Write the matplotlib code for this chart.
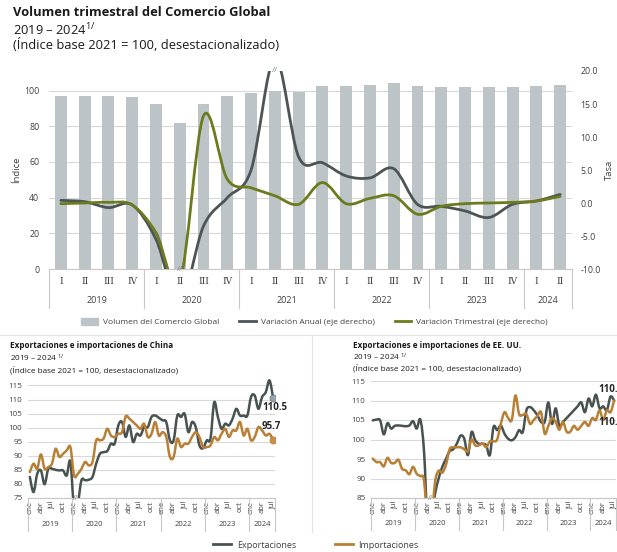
import numpy as np
import matplotlib
matplotlib.use('Agg')
import matplotlib.pyplot as plt
from matplotlib.path import Path
from matplotlib.patches import PathPatch, Patch
from matplotlib.lines import Line2D
from matplotlib.transforms import blended_transform_factory

plt.rcParams['font.family'] = ['Open Sans', 'DejaVu Sans']
plt.rcParams['mathtext.fontset'] = 'custom'
plt.rcParams['mathtext.rm'] = 'Open Sans'
plt.rcParams['mathtext.default'] = 'regular'

# ---- datos: volumen trimestral ----
trimestres = ['I', 'II', 'III', 'IV'] * 5 + ['I', 'II']
anios_q = ['2019', '2020', '2021', '2022', '2023', '2024']
volumen = [96.8, 97.0, 97.2, 96.5, 92.3, 82.0, 92.7, 96.8, 98.7, 99.7, 99.5,
           102.4, 102.6, 103.2, 104.3, 102.6, 101.9, 101.9, 101.9, 101.9,
           102.4, 103.3]
var_anual = [0.4, 0.2, -0.7, -0.3, -5.5, -15.0, -3.5, 0.8, 5.0, 22.0, 7.0,
             6.1, 4.1, 3.8, 5.2, -0.2, -0.5, -1.2, -2.2, -0.2, 0.3, 1.3]
var_trim = [-0.1, 0.0, 0.1, -0.3, -4.5, -12.0, 13.2, 3.6, 2.3, 1.1, -0.2,
            3.1, -0.1, 0.7, 1.1, -1.7, -0.5, -0.1, 0.0, 0.1, 0.3, 1.0]

# ---- datos mensuales ene-2019 a jul-2024 ----
meses = ['ene', 'feb', 'mar', 'abr', 'may', 'jun', 'jul', 'ago', 'sep', 'oct', 'nov', 'dic']
anios_m = ['2019', '2020', '2021', '2022', '2023', '2024']

china_exp = [82.5, 77.1, 83.6, 84.8, 79.9, 85.4, 85.4, 85.0, 84.8, 84.8, 83.0, 88.0,
             71.0, 73.0, 81.3, 81.3, 81.5, 82.5, 87.2, 90.7, 91.3, 91.7, 94.3, 94.3,
             100.8, 102.0, 96.7, 100.8, 94.9, 97.8, 97.2, 100.2, 100.2, 103.8, 104.3, 103.5,
             102.6, 102.0, 95.5, 95.5, 104.3, 103.8, 104.9, 98.4, 102.0, 100.2, 93.7, 92.7,
             95.5, 96.1, 109.0, 103.8, 99.6, 101.4, 100.8, 103.2, 106.7, 104.3, 104.3, 104.3,
             110.9, 111.4, 106.7, 110.9, 112.6, 116.8, 110.5]
china_imp = [84.2, 87.2, 85.4, 90.5, 85.4, 86.0, 87.2, 92.5, 89.6, 90.7, 91.9, 93.1,
             83.0, 83.6, 85.4, 87.8, 86.6, 87.8, 95.5, 95.5, 96.1, 99.6, 97.2, 96.7,
             97.8, 98.4, 104.0, 103.2, 102.0, 100.8, 99.6, 101.4, 96.7, 97.8, 102.0, 97.2,
             98.4, 96.7, 89.6, 89.6, 96.1, 93.1, 94.3, 94.3, 96.7, 98.4, 96.7, 93.1,
             93.1, 93.7, 96.7, 95.5, 97.8, 99.6, 96.7, 99.0, 99.0, 102.0, 97.2, 99.6,
             95.5, 96.7, 100.2, 99.0, 97.2, 97.8, 95.7]
eeuu_exp = [104.9, 105.1, 104.9, 101.3, 104.2, 102.8, 103.5, 103.6, 103.5, 103.4, 103.6, 104.7,
            102.8, 105.1, 97.0, 78.0, 80.0, 86.0, 90.0, 93.0, 95.0, 97.0, 97.5, 99.0,
            101.0, 100.2, 96.0, 101.9, 99.8, 98.9, 98.9, 98.5, 96.0, 103.2, 102.4, 103.6,
            101.5, 100.2, 99.8, 100.6, 102.4, 101.9, 107.5, 108.3, 107.5, 106.2, 104.5, 104.5,
            109.5, 104.0, 108.0, 103.5, 104.5, 105.5, 106.5, 107.5, 108.5, 109.5, 107.0, 110.5,
            108.5, 111.5, 108.0, 108.5, 107.5, 111.0, 110.0]
eeuu_imp = [95.1, 94.2, 94.2, 93.1, 95.3, 94.0, 94.0, 94.8, 92.5, 92.1, 91.1, 93.0,
            91.2, 90.6, 89.5, 78.0, 78.0, 89.0, 92.0, 91.5, 93.5, 97.5, 98.0, 98.0,
            98.0, 97.5, 97.0, 100.0, 98.5, 98.5, 99.0, 98.0, 99.5, 99.5, 100.0, 104.0,
            107.0, 105.5, 105.0, 111.3, 106.5, 106.3, 106.5, 104.0, 105.0, 106.0, 107.0, 101.5,
            103.5, 105.5, 104.5, 102.5, 104.5, 102.0, 102.0, 103.5, 102.5, 103.5, 104.5, 103.5,
            105.5, 105.0, 107.5, 105.0, 107.5, 107.0, 110.0]

C_BAR = '#BDC4C8'
C_ANUAL = '#4D5456'
C_TRIM = '#6B7B1E'
C_EXP = '#485351'
C_IMP = '#B98035'
C_GRID = '#D9D9D9'
C_TXT = '#404040'
C_SEP = '#C8C8C8'


def suave(x, y):
    # curva tipo "linea suavizada" de Excel (Bezier por Catmull-Rom)
    pts = np.column_stack([x, y]).astype(float)
    verts = [pts[0]]
    codes = [Path.MOVETO]
    n = len(pts)
    for i in range(n - 1):
        p0 = pts[i - 1] if i > 0 else pts[i]
        p1, p2 = pts[i], pts[i + 1]
        p3 = pts[i + 2] if i + 2 < n else pts[i + 1]
        verts += [p1 + (p2 - p0) / 6, p2 - (p3 - p1) / 6, p2]
        codes += [Path.CURVE4] * 3
    return Path(verts, codes)


def linea(ax, x, y, color, lw):
    ax.add_patch(PathPatch(suave(x, y), fill=False, edgecolor=color, lw=lw,
                           capstyle='round', joinstyle='round'))


def eje_jerarquico(ax, grupos, tam, y_anio, y_sep, fs):
    tr = blended_transform_factory(ax.transData, ax.transAxes)
    inicio = -0.5
    bordes = [inicio]
    for g, n in zip(grupos, tam):
        ax.text(inicio + n / 2, y_anio, g, transform=tr, ha='center', va='center',
                fontsize=fs, color=C_TXT)
        inicio += n
        bordes.append(inicio)
    for b in bordes:
        ax.plot([b, b], [0, y_sep], transform=tr, color=C_SEP, lw=0.8, clip_on=False)


fig = plt.figure(figsize=(6.17, 5.52), dpi=100)
W, H = 617, 552


def px(x0, y0, x1, y1):
    return [x0 / W, 1 - y1 / H, (x1 - x0) / W, (y1 - y0) / H]


# ---------------- grafico superior ----------------
ax = fig.add_axes(px(49, 71, 572, 269))
xq = np.arange(len(volumen))
ax.bar(xq, volumen, width=0.5, color=C_BAR, zorder=2)
ax.set_xlim(-0.5, len(volumen) - 0.5)
ax.set_ylim(0, 111)
ax.set_yticks(range(0, 101, 20))
ax.yaxis.grid(True, color=C_GRID, lw=0.8, zorder=0)
ax.set_axisbelow(True)
for s in ['top', 'right', 'left']:
    ax.spines[s].set_visible(False)
ax.spines['bottom'].set_color(C_SEP)
ax.set_xticks(xq)
ax.set_xticklabels(trimestres, fontsize=6.5, color=C_TXT, family=['DejaVu Serif'])
ax.tick_params(axis='x', length=0, pad=6)
ax.tick_params(axis='y', length=0, labelsize=6.3, labelcolor=C_TXT, pad=7)
ax.set_ylabel('Índice', fontsize=6.8, color=C_TXT, labelpad=2)
eje_jerarquico(ax, anios_q, [4, 4, 4, 4, 4, 2], -0.157, -0.195, 6.5)

ax2 = ax.twinx()
ax2.set_ylim(-10, 20)
ax2.set_yticks(np.arange(-10, 20.1, 5))
ax2.set_yticklabels([f'{v:.1f}' for v in np.arange(-10, 20.1, 5)])
ax2.tick_params(axis='y', length=0, labelsize=6.3, labelcolor=C_TXT, pad=6)
for s in ax2.spines.values():
    s.set_visible(False)
ax2.set_ylabel('Tasa', fontsize=6.8, color=C_TXT, labelpad=3)
linea(ax2, xq, var_anual, C_ANUAL, 2.0)
linea(ax2, xq, var_trim, C_TRIM, 2.0)
ax2.text(5.0, -10, '//', ha='center', va='center', fontsize=6, color='#808080')
ax2.text(9.0, 20, '//', ha='center', va='center', fontsize=6, color='#808080')

fig.text(13 / W, 1 - 12 / H, 'Volumen trimestral del Comercio Global', fontsize=9.3,
         fontweight='bold', va='center', color='#1A1A1A')
fig.text(13 / W, 1 - 30 / H, '2019 – 2024$^{1/}$', fontsize=9.3, va='center', color='#1A1A1A')
fig.text(13 / W, 1 - 45 / H, '(Índice base 2021 = 100, desestacionalizado)', fontsize=9.3,
         va='center', color='#1A1A1A')

h_top = [Patch(color=C_BAR), Line2D([], [], color=C_ANUAL, lw=2),
         Line2D([], [], color=C_TRIM, lw=2)]
fig.legend(h_top, ['Volumen del Comercio Global', 'Variación Anual (eje derecho)',
                   'Variación Trimestral (eje derecho)'],
           loc='center', bbox_to_anchor=(0.51, 1 - 322 / H), ncol=3, frameon=False,
           fontsize=6, handlelength=2.0, handleheight=0.9, columnspacing=2.4,
           handletextpad=0.6, labelcolor=C_TXT)


# ---------------- graficos mensuales ----------------
def mensual(box, exp, imp, ymin, ymax, titulo, y_tit, marcas, etiquetas, corte):
    a = fig.add_axes(px(*box))
    xm = np.arange(len(exp))
    linea(a, xm, exp, C_EXP, 1.8)
    linea(a, xm, imp, C_IMP, 1.8)
    a.set_xlim(-0.5, len(exp) - 0.5)
    a.set_ylim(ymin, ymax)
    a.set_yticks(np.arange(ymin, 115.1, 5))
    a.yaxis.grid(True, color=C_GRID, lw=0.8)
    a.set_axisbelow(True)
    for s in ['top', 'right', 'left']:
        a.spines[s].set_visible(False)
    a.spines['bottom'].set_color(C_SEP)
    a.tick_params(axis='y', length=0, labelsize=5.8, labelcolor=C_TXT, pad=4)
    pos = [i for i in xm if i % 3 == 0]
    a.set_xticks(pos)
    a.set_xticklabels([meses[i % 12] for i in pos], rotation=90, fontsize=5.5, color=C_TXT)
    a.tick_params(axis='x', length=0, pad=2)
    tam = [12] * 5 + [len(exp) - 60]
    eje_jerarquico(a, anios_m, tam, -0.215, -0.27, 5.5)
    if marcas:
        a.plot(xm[-1], exp[-1], 'o', ms=5, mfc='#93A6B0', mec='#6E7F88', mew=0.6, zorder=5)
        a.plot(xm[-1], imp[-1], 'o', ms=5, mfc='#C8904A', mec=C_IMP, mew=0.6, zorder=5)
    for (xt, yt, val) in etiquetas:
        a.text(xt, yt, f'{val:.1f}', fontsize=7, fontweight='bold', color='#262626',
               ha='left', va='center', clip_on=False)
    a.text(corte, ymin, '//', ha='center', va='center', fontsize=5, color='#808080')
    x0 = box[0] - 18
    fig.text(x0 / W, 1 - y_tit[0] / H, titulo, fontsize=5.9, fontweight='bold',
             va='center', color='#1A1A1A')
    fig.text(x0 / W, 1 - y_tit[1] / H, '2019 – 2024 $^{1/}$', fontsize=5.9,
             va='center', color='#1A1A1A')
    fig.text(x0 / W, 1 - y_tit[2] / H, '(Índice base 2021 = 100, desestacionalizado)',
             fontsize=5.9, va='center', color='#1A1A1A')
    return a


mensual((28, 377, 275, 498), china_exp, china_imp, 75, 118,
        'Exportaciones e importaciones de China', (346, 358, 370), True,
        [(63.2, 107.0, china_exp[-1]), (63.0, 100.5, china_imp[-1])], 12.4)
mensual((371, 381, 616, 498), eeuu_exp, eeuu_imp, 85, 115,
        'Exportaciones e importaciones de EE. UU.', (345, 357, 368), False,
        [(61.6, 112.8, eeuu_exp[-1]), (61.6, 104.3, eeuu_imp[-1])], 15.7)

fig.add_artist(Line2D([0.0, 1.0], [1 - 335 / H, 1 - 335 / H], color='#E3E3E3', lw=0.8,
                      transform=fig.transFigure))
fig.add_artist(Line2D([312 / W, 312 / W], [1 - 335 / H, 1 - 532 / H], color='#E3E3E3',
                      lw=0.8, transform=fig.transFigure))

h_bot = [Line2D([], [], color=C_EXP, lw=2), Line2D([], [], color=C_IMP, lw=2)]
fig.legend(h_bot, ['Exportaciones', 'Importaciones'], loc='center',
           bbox_to_anchor=(0.512, 1 - 545 / H), ncol=2, frameon=False, fontsize=6.5,
           handlelength=2.0, handletextpad=0.6, columnspacing=4.3, labelcolor=C_TXT)

fig.savefig('out.png', dpi=100)
